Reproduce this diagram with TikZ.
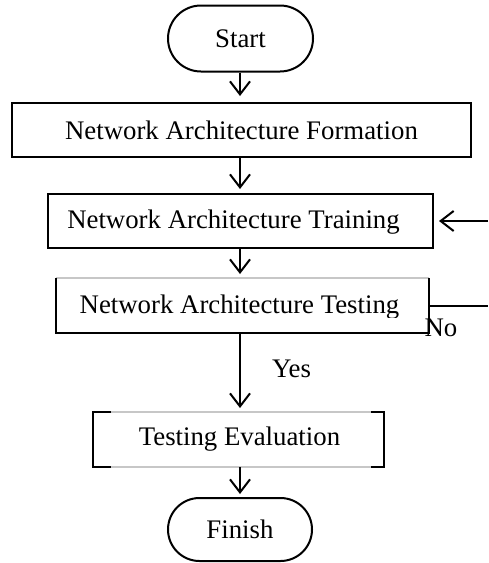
\documentclass[tikz,border=0pt]{standalone}
\usepackage{fontspec}
\setmainfont{Liberation Serif}
\usetikzlibrary{arrows.meta,shapes.misc}
\begin{document}
\begin{tikzpicture}[x=1pt,y=-1pt,
  line width=2pt,
  every node/.style={font=\fontsize{26.8}{31}\selectfont, inner sep=0pt},
  terminal/.style={rounded rectangle, draw, minimum width=145pt, minimum height=66pt},
  stepbox/.style={rectangle, draw, minimum height=54pt},
  framebox/.style={rectangle, minimum height=53pt},
  arr/.style={-{Straight Barb[length=13pt,width=20pt]}},
  faint/.style={draw=black!22, line width=1.2pt}
]
\useasboundingbox (0,0) rectangle (488,563);

% terminals and process boxes
\node[terminal] (start) at (240.5,38.5) {Start};
\node[stepbox, minimum width=459pt] (form) at (241.5,130) {Network Architecture Formation};
\node[stepbox, minimum width=385pt] (train) at (240.5,221) {};
\node[framebox, minimum width=371pt] (test) at (242.5,305.5) {};
\node[framebox, minimum width=289pt] (eval) at (238.5,439.5) {};
\node[terminal, minimum width=144pt, minimum height=63pt] (finish) at (240,529.5) {Finish};

% box labels whose descenders are cut off
\begin{scope}
  \clip (train.north west) rectangle ([yshift=-13pt]train.east);
  \node (trainlbl) at ([xshift=-7pt,yshift=-1pt]train.center) {Network Architecture Training};
\end{scope}
\begin{scope}
  \clip (test.north west) rectangle ([yshift=-12pt]test.east);
  \node (testlbl) at ([xshift=-3pt,yshift=-2pt]test.center) {Network Architecture Testing};
\end{scope}
\node (evallbl) at ([xshift=1pt]eval.center) {Testing Evaluation};

% frame of the testing box
\draw[faint] (test.north west) -- (test.north east);
\draw (test.north west) -- (test.south west) -- (test.south east) -- (test.north east);

% frame of the evaluation box
\draw[faint] (eval.north west) -- (eval.north east);
\draw[faint] (eval.south west) -- (eval.south east);
\draw ([xshift=18pt]eval.north west) -- (eval.north west) -- (eval.south west) -- ([xshift=18pt]eval.south west);
\draw ([xshift=-13pt]eval.north east) -- (eval.north east) -- (eval.south east) -- ([xshift=-13pt]eval.south east);

% main flow, all arrows vertical along x = 240
\coordinate (axis) at (240,0);
\draw[arr, shorten >=6pt] (start.south -| axis) -- (form.north -| axis);
\draw[arr, shorten >=4pt] (form.south -| axis) -- (train.north -| axis);
\draw[arr, shorten >=4pt] (train.south -| axis) -- (test.north -| axis);
\draw[arr, shorten >=4pt] (test.south -| axis) -- (eval.north -| axis) node[pos=0.45, right=31pt] (yes) {Yes};
\draw[arr, shorten >=3pt] (eval.south -| axis) -- (finish.north -| axis);

% retry loop leaving the picture to the right
\coordinate (noR) at (488,305.5);
\coordinate (fbR) at (488,221);
\draw (test.east) -- (noR);
\node (no) at (441,328) {No};
\draw[arr, shorten >=5pt] (fbR) -- (train.east);
\end{tikzpicture}
\end{document}
